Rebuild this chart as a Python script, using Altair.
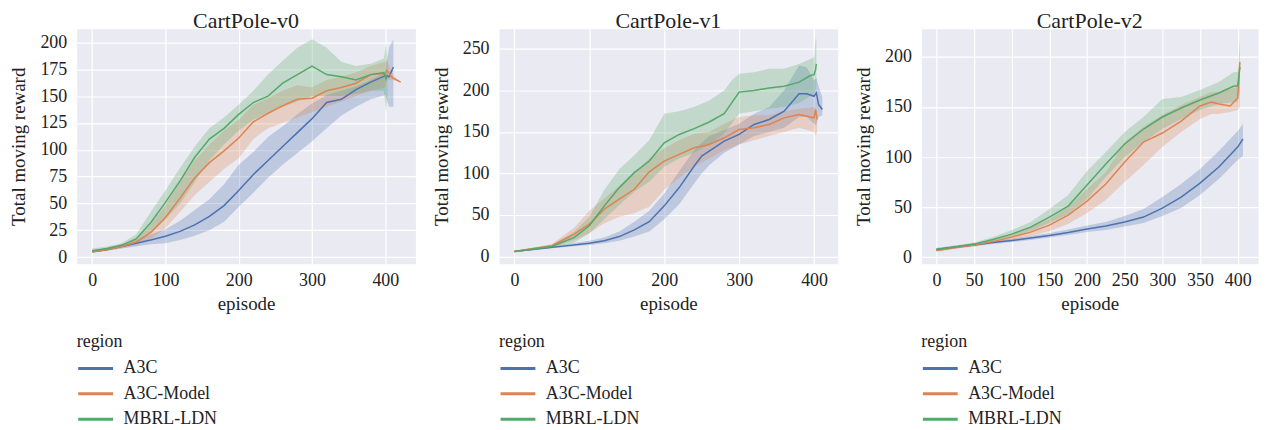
import altair as alt
import pandas as pd

regions = ["A3C", "A3C-Model", "MBRL-LDN"]
colors = ["#4c72b0", "#dd8452", "#55a868"]

# ---------------- CartPole-v0 ----------------
p1_a3c_ep = [0, 20, 40, 60, 80, 100, 120, 140, 160, 180, 200, 220, 240, 260, 280, 300, 320, 340, 360, 380, 400, 405, 411]
p1_a3c_mean = [5, 7, 10, 13, 16, 19.5, 24, 30, 38, 48, 62, 77, 90, 103, 116, 129, 144, 147, 156, 163, 169, 168, 177]
p1_a3c_lo = [4, 6, 8, 10, 12, 13, 16, 20, 25, 33, 47, 60, 74, 86, 97, 108, 120, 132, 140, 147, 151, 140, 140]
p1_a3c_hi = [6, 8, 12, 16, 21, 26, 34, 44, 54, 68, 86, 98, 112, 122, 133, 143, 151, 155, 159, 165, 172, 195, 203]

p1_a3cm_ep = [0, 20, 40, 60, 80, 100, 120, 140, 160, 180, 200, 220, 240, 260, 280, 300, 320, 340, 360, 380, 400, 402, 410, 421]
p1_a3cm_mean = [5, 7, 10, 14, 23, 37, 55, 74, 88, 99, 111, 126, 134, 141, 147, 148, 155, 158, 162, 170, 171, 174, 167, 163]
p1_a3cm_lo = [4, 6, 8, 11, 17, 27, 42, 58, 70, 82, 92, 110, 120, 125, 130, 135, 140, 145, 150, 155, 158, 165, 165, 163]
p1_a3cm_hi = [6, 8, 11, 17, 30, 48, 70, 90, 105, 118, 128, 142, 148, 155, 160, 158, 165, 168, 172, 178, 182, 184, 170, 163]

p1_mbrl_ep = [0, 20, 40, 60, 80, 100, 120, 140, 160, 180, 200, 220, 240, 260, 280, 300, 320, 340, 360, 380, 398, 401, 403]
p1_mbrl_mean = [6, 8, 11, 17, 32, 51, 71, 93, 110, 120, 133, 144, 150, 162, 170, 178, 170, 168, 165, 170, 172, 166, 170]
p1_mbrl_lo = [5, 7, 9, 13, 22, 35, 50, 70, 90, 105, 118, 128, 135, 140, 145, 150, 150, 150, 152, 155, 155, 135, 152]
p1_mbrl_hi = [8, 10, 13, 21, 42, 62, 83, 103, 120, 130, 142, 155, 170, 183, 195, 203, 195, 182, 178, 180, 185, 199, 185]

# ---------------- CartPole-v1 ----------------
p2_a3c_ep = [0, 50, 100, 120, 140, 160, 180, 200, 220, 240, 250, 260, 280, 300, 320, 340, 360, 380, 390, 400, 403, 406, 411]
p2_a3c_mean = [6, 11, 16, 19, 24, 32, 42, 61, 83, 109, 121, 127, 139, 147, 159, 165, 175, 196, 196, 193, 197, 183, 177]
p2_a3c_lo = [5, 10, 14, 16, 19, 24, 30, 45, 63, 88, 100, 110, 125, 135, 145, 150, 155, 168, 168, 160, 158, 168, 170]
p2_a3c_hi = [7, 12, 19, 23, 30, 42, 55, 76, 103, 128, 137, 145, 152, 160, 172, 180, 200, 230, 228, 212, 215, 205, 192]

p2_a3cm_ep = [0, 50, 80, 100, 120, 140, 160, 180, 200, 220, 240, 260, 280, 300, 320, 340, 360, 380, 400, 402, 404]
p2_a3cm_mean = [6, 13, 27, 39, 57, 69, 81, 102, 115, 123, 131, 135, 143, 153, 155, 159, 167, 171, 167, 177, 165]
p2_a3cm_lo = [5, 11, 20, 28, 40, 48, 52, 60, 80, 95, 108, 118, 128, 135, 140, 145, 150, 155, 150, 145, 150]
p2_a3cm_hi = [7, 15, 35, 55, 70, 85, 100, 118, 130, 140, 148, 150, 160, 168, 170, 170, 175, 178, 180, 178, 175]

p2_mbrl_ep = [0, 50, 80, 100, 120, 140, 160, 180, 200, 220, 240, 260, 280, 290, 300, 320, 340, 360, 380, 395, 400, 402, 403]
p2_mbrl_mean = [6, 12, 23, 37, 61, 83, 101, 115, 137, 147, 154, 162, 172, 185, 198, 200, 203, 205, 210, 218, 219, 225, 232]
p2_mbrl_lo = [5, 10, 17, 28, 45, 62, 78, 90, 108, 118, 125, 135, 148, 160, 172, 175, 178, 180, 185, 193, 195, 200, 205]
p2_mbrl_hi = [7, 14, 30, 48, 80, 105, 122, 140, 172, 175, 180, 188, 200, 212, 220, 222, 226, 226, 232, 238, 240, 262, 262]

# ---------------- CartPole-v2 ----------------
p3_a3c_ep = [0, 25, 50, 75, 100, 125, 150, 175, 200, 225, 250, 275, 300, 325, 350, 375, 400, 407]
p3_a3c_mean = [7.5, 10, 12, 14.5, 16.5, 19, 21.5, 24.5, 28, 31, 35, 40, 49, 60, 74, 90, 110, 118]
p3_a3c_lo = [6, 8.5, 10.5, 13, 15, 17, 19.5, 22, 25, 27, 30.5, 34, 41, 49, 62, 78, 97, 101]
p3_a3c_hi = [9, 11.5, 13.5, 16, 18.5, 21, 24, 27.5, 31.5, 35, 41, 48, 60, 73, 88, 106, 126, 133]

p3_a3cm_ep = [0, 25, 50, 75, 100, 125, 150, 175, 200, 225, 250, 275, 300, 325, 350, 365, 375, 390, 400, 403]
p3_a3cm_mean = [6.6, 9.5, 12, 15.5, 20, 25, 32, 42, 56, 73, 95, 115, 124, 136, 151, 155, 153, 151, 159, 195]
p3_a3cm_lo = [5, 8, 11, 14, 17, 21, 26, 33, 44, 57, 75, 92, 110, 125, 138, 143, 143, 145, 147, 150]
p3_a3cm_hi = [8, 11, 13.5, 17, 23, 30, 38, 50, 68, 85, 115, 130, 142, 152, 160, 165, 165, 168, 170, 197]

p3_mbrl_ep = [0, 25, 50, 75, 100, 125, 150, 175, 200, 225, 250, 275, 300, 325, 350, 375, 395, 400, 403]
p3_mbrl_mean = [7.6, 10, 13, 17.6, 23, 30, 40, 51, 72, 93, 113, 128, 140, 149, 157, 164, 171, 171, 190]
p3_mbrl_lo = [6, 8.5, 11.5, 15, 20, 26, 34, 43, 58, 80, 100, 115, 128, 138, 147, 153, 155, 155, 165]
p3_mbrl_hi = [9, 11.5, 14.5, 20, 27, 35, 48, 62, 86, 105, 125, 140, 158, 160, 167, 175, 185, 185, 217]

FONT = "Liberation Serif"
TXT = "#222222"


def frame(series):
    rows = []
    for name, ep, mean, lo, hi in series:
        col = colors[regions.index(name)]
        for e, m, l, h in zip(ep, mean, lo, hi):
            rows.append({"region": name, "col": col, "episode": e, "mean": m, "lo": l, "hi": h})
    return pd.DataFrame(rows)


def panel(df, title, xvals, yvals, xdom, ydom, w, h):
    xs = alt.Scale(domain=xdom, nice=False, zero=False)
    ys = alt.Scale(domain=ydom, nice=False, zero=False)
    xa = alt.Axis(values=xvals, title="episode", labelPadding=8, titlePadding=5)
    ya = alt.Axis(values=yvals, title="Total moving reward", labelPadding=10, titlePadding=11)
    band = alt.Chart(df).mark_area(opacity=0.28, interpolate="linear").encode(
        x=alt.X("episode:Q", scale=xs, axis=xa),
        y=alt.Y("lo:Q", scale=ys, axis=ya),
        y2="hi:Q",
        fill=alt.Fill("col:N", scale=None),
        detail="region:N",
    )
    line = alt.Chart(df).mark_line(strokeWidth=1.5, interpolate="linear").encode(
        x=alt.X("episode:Q", scale=xs, axis=xa),
        y=alt.Y("mean:Q", scale=ys, axis=ya),
        stroke=alt.Stroke(
            "region:N",
            scale=alt.Scale(domain=regions, range=colors),
            legend=alt.Legend(
                title="region", orient="none", legendX=0, legendY=306,
                direction="vertical", symbolType="stroke", symbolSize=1225,
                symbolStrokeWidth=3, clipHeight=18, rowPadding=7.5,
                labelOffset=9, titlePadding=8, padding=0,
                labelFont=FONT, labelFontSize=18, labelColor=TXT,
                titleFont=FONT, titleFontSize=18, titleFontWeight="normal",
                titleColor=TXT,
            ),
        ),
    )
    return alt.layer(band, line).properties(
        width=w, height=h,
        title=alt.TitleParams(text=title, font=FONT, fontSize=22, fontWeight="normal",
                              color=TXT, offset=-4, anchor="middle"),
    )


df1 = frame([("A3C", p1_a3c_ep, p1_a3c_mean, p1_a3c_lo, p1_a3c_hi),
             ("A3C-Model", p1_a3cm_ep, p1_a3cm_mean, p1_a3cm_lo, p1_a3cm_hi),
             ("MBRL-LDN", p1_mbrl_ep, p1_mbrl_mean, p1_mbrl_lo, p1_mbrl_hi)])
df2 = frame([("A3C", p2_a3c_ep, p2_a3c_mean, p2_a3c_lo, p2_a3c_hi),
             ("A3C-Model", p2_a3cm_ep, p2_a3cm_mean, p2_a3cm_lo, p2_a3cm_hi),
             ("MBRL-LDN", p2_mbrl_ep, p2_mbrl_mean, p2_mbrl_lo, p2_mbrl_hi)])
df3 = frame([("A3C", p3_a3c_ep, p3_a3c_mean, p3_a3c_lo, p3_a3c_hi),
             ("A3C-Model", p3_a3cm_ep, p3_a3cm_mean, p3_a3cm_lo, p3_a3cm_hi),
             ("MBRL-LDN", p3_mbrl_ep, p3_mbrl_mean, p3_mbrl_lo, p3_mbrl_hi)])

c1 = panel(df1, "CartPole-v0", [0, 100, 200, 300, 400], [0, 25, 50, 75, 100, 125, 150, 175, 200],
           [-21, 441], [-6.2, 212.7], 340, 236)
c2 = panel(df2, "CartPole-v1", [0, 100, 200, 300, 400], [0, 50, 100, 150, 200, 250],
           [-20.5, 431.5], [-8.8, 274.3], 340, 236)
c3 = panel(df3, "CartPole-v2", [0, 50, 100, 150, 200, 250, 300, 350, 400], [0, 50, 100, 150, 200],
           [-20, 427], [-6.7, 228.2], 338, 236)

chart = (
    alt.hconcat(c1, c2, c3, spacing=15)
    .resolve_scale(stroke="independent")
    .resolve_legend(stroke="independent")
    .properties(padding={"left": 1, "top": 0, "right": 0, "bottom": 0}, background="white")
    .configure_view(fill="#eaeaf2", stroke="transparent")
    .configure_title(font=FONT, fontSize=22, fontWeight="normal", color=TXT)
    .configure_axis(
        labelFont=FONT, labelFontSize=18, labelColor=TXT,
        titleFont=FONT, titleFontSize=19, titleFontWeight="normal", titleColor=TXT,
        gridColor="white", gridWidth=1.2, domain=False, ticks=False,
    )
)

chart.save("out.html", embed_options={"renderer": "svg", "actions": False})
